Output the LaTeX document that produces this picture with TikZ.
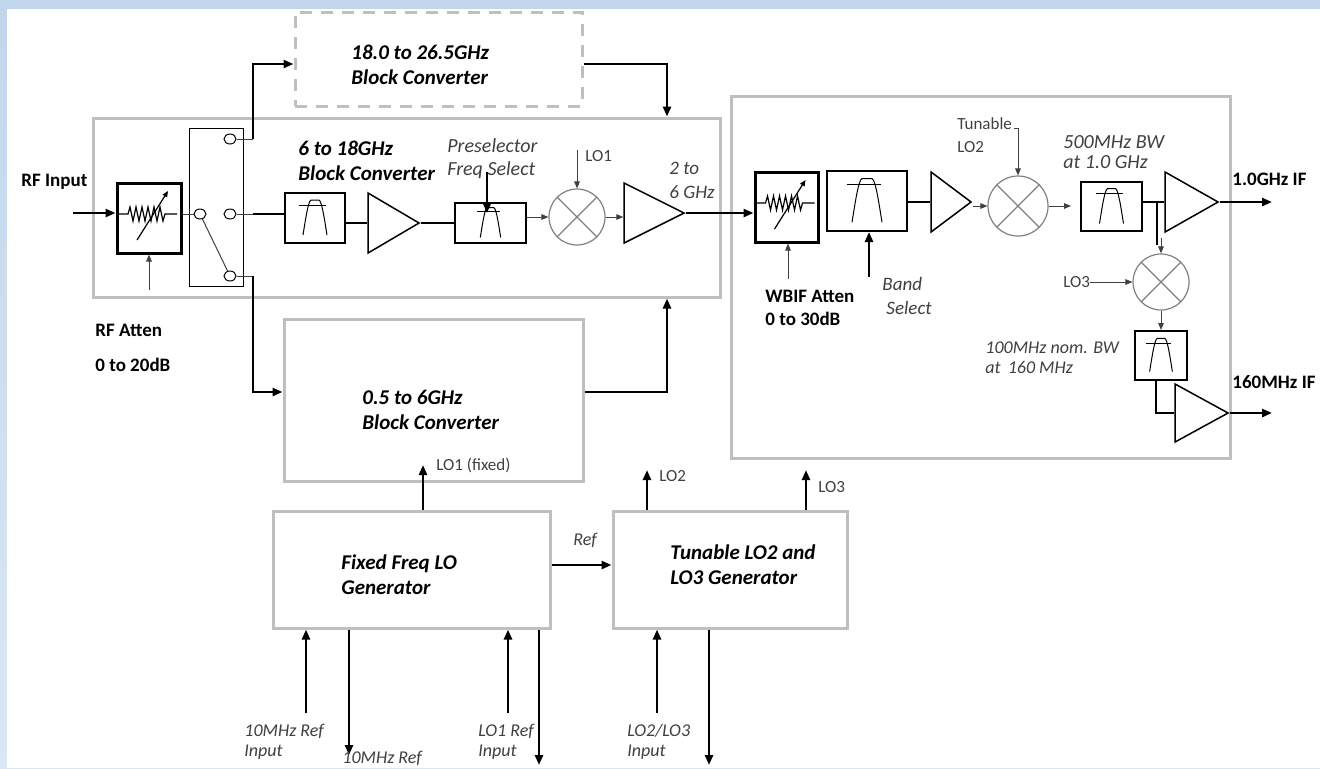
\documentclass[tikz,border=0pt]{standalone}
\usepackage{fontspec}
\setmainfont{Carlito}
\usetikzlibrary{calc, positioning, arrows.meta, shapes.geometric}
\newdimen\pxu \pxu=0.5pt
\definecolor{boxgray}{HTML}{BFBFBF}
\definecolor{mixgray}{HTML}{808080}
\definecolor{wiregray}{HTML}{404040}
\definecolor{txtgray}{HTML}{404040}
\definecolor{bgtop}{HTML}{C2D6EB}
\definecolor{bgbot}{HTML}{DAE7F4}

\begin{document}
\begin{tikzpicture}[x=0.5pt, y=-0.5pt,
    gbox/.style={draw=boxgray, line width=1.5pt, inner sep=0pt},
    fbox/.style={draw, line width=1pt, inner sep=0pt},
    abox/.style={draw, line width=1.5pt, inner sep=0pt},
    amp/.style 2 args={isosceles triangle, isosceles triangle stretches, draw, line width=0.75pt, inner sep=0pt,
      minimum height=#1*\pxu, minimum width=#2*\pxu},
    mixer/.style={circle, draw=mixgray, line width=0.6pt, minimum size=#1*\pxu, inner sep=0pt,
      path picture={\draw[mixgray, line width=0.6pt] (path picture bounding box.north east) -- (path picture bounding box.south west)
        (path picture bounding box.north west) -- (path picture bounding box.south east);}},
    swc/.style={ellipse, draw, line width=0.5pt, minimum width=12*\pxu, minimum height=10*\pxu, inner sep=0pt},
    sig/.style={line width=1.3pt},
    sarr/.style={sig, -{Triangle[length=5pt, width=4pt]}},
    wire/.style={line width=0.5pt, draw=wiregray},
    warr/.style={wire, -{Triangle[length=3.5pt, width=2.8pt]}},
    ttl/.style={font=\fontsize{10.5}{12.5}\selectfont\bfseries\itshape, align=left, anchor=west, inner sep=0pt},
    bold/.style={font=\fontsize{9.5}{11.5}\selectfont\bfseries, align=left, anchor=west, inner sep=0pt},
    note/.style={font=\fontsize{9}{11}\selectfont\itshape, text=txtgray, align=left, anchor=west, inner sep=0pt},
    tag/.style={font=\fontsize{8.5}{11.5}\selectfont, text=txtgray, align=left, anchor=west, inner sep=0pt},
    bpf/.pic={
      \draw[line width=0.5pt] (-16,-13) -- (11,-13);
      \draw[line width=0.5pt] (-12,17) .. controls (-10,5) and (-7,-17) .. (-4,-18) -- (4,-18)
        .. controls (7,-17) and (10,5) .. (12,17);
    },
    att/.pic={
      \draw[line width=0.6pt] (-31,-4) -- (-21,-4) -- (-19,-11) -- (-16,3) -- (-13,-11) -- (-10,3) -- (-7,-11)
        -- (-4,3) -- (-1,-11) -- (2,3) -- (5,-11) -- (8,3) -- (11,-11) -- (14,3) -- (16,-4) -- (28,-4);
      \draw[line width=0.6pt, -{Triangle[length=3pt, width=2.5pt]}] (-12,22) -- (19,-27);
    }]
    \useasboundingbox (0,0) rectangle (1320,768);
    % page frame
    \shade[top color=bgtop, bottom color=bgbot] (0,0) rectangle (1320,768);
    \fill[white] (7,9) rectangle (1320,768);

    % gray blocks
    \node[gbox, dash pattern=on 6pt off 4.5pt, minimum width=287*\pxu, minimum height=94*\pxu] (bc18) at (438.5,59) {};
    \node[gbox, minimum width=627*\pxu, minimum height=179*\pxu] (bc6) at (406.5,207.5) {};
    \node[gbox, minimum width=299*\pxu, minimum height=162*\pxu] (bc05) at (433.5,400) {};
    \node[gbox, minimum width=499*\pxu, minimum height=362*\pxu] (ifs) at (980.5,277) {};
    \node[gbox, minimum width=277*\pxu, minimum height=117*\pxu] (flo) at (411.5,569.5) {};
    \node[gbox, minimum width=234*\pxu, minimum height=117*\pxu] (tlo) at (730,569.5) {};

    \node[ttl] (t18) at (351,64.5) {18.0 to 26.5GHz\\Block Converter};
    \node[ttl] (t6) at (298,160.5) {6 to 18GHz\\Block Converter};
    \node[ttl] (t05) at (362,409.5) {0.5 to 6GHz\\Block Converter};
    \node[ttl] (tflo) at (341,575) {Fixed Freq LO\\Generator};
    \node[ttl] (ttlo) at (670,564.5) {Tunable LO2 and\\LO3 Generator};

    % RF front end
    \node[bold] (trf) at (21,182) {RF Input};
    \node[bold] (trfa) at (95,347.5) {RF Atten\\[6pt]0 to 20dB};
    \node[abox, minimum width=64*\pxu, minimum height=70*\pxu] (rfatt) at (149,218) {};
    \pic at (rfatt) {att};
    \coordinate (rfin) at (73,213);
    \draw[sarr] (rfin) -- (rfin -| rfatt.west);
    \coordinate (rfac) at (149,290);
    \draw[warr] (rfac) -- (rfatt.south);

    % band switch
    \node[draw, line width=0.5pt, minimum width=54*\pxu, minimum height=158*\pxu, inner sep=0pt] (swbox) at (216,207) {};
    \node[swc] (swin) at (200,214) {};
    \node[swc] (swhi) at (230,139) {};
    \node[swc] (swmid) at (230,214) {};
    \node[swc] (swlo) at (230,276) {};
    \draw[wire] (rfatt.east |- swin) -- (swin);
    \draw[wire] (swin) -- (swlo);
    \coordinate (ja) at (253,139);
    \coordinate (jb) at (253,214);
    \coordinate (jd) at (253,276);
    \draw[wire] (swhi) -- (ja);
    \draw[wire] (swmid) -- (jb);
    \draw[wire] (swlo) -- (jd);
    \draw[sarr] (ja) |- ($(bc18.west)+(0,5)$);
    \draw[sarr] (jd) |- ($(bc05.west)+(0,-8)$);

    % 6 to 18GHz chain
    \node[fbox, minimum width=60*\pxu, minimum height=50*\pxu] (f1) at (315,218) {};
    \pic at (f1) {bpf};
    \draw[sig] (jb) -- (jb -| f1.west);
    \node[amp={51}{60}, anchor=apex] (amp1) at (421,223) {};
    \draw[sig] (f1.east |- amp1.west) -- (amp1.west);
    \node[fbox, minimum width=71*\pxu, minimum height=40*\pxu] (f2) at (490.5,223) {};
    \pic[scale=0.85] at (f2) {bpf};
    \draw[sig] (amp1.apex) -- (amp1.apex -| f2.west);
    \node[note, font=\fontsize{10}{11.5}\selectfont\itshape] (tpre) at (447,158.5) {Preselector\\Freq Select};
    \coordinate (psel) at (487,172);
    \coordinate (pselt) at (487,213);
    \draw[sarr] (psel) -- (pselt);
    \node[mixer=56] (mx1) at (577,217) {};
    \draw[warr] (f2.east |- mx1.west) -- (mx1.west);
    \coordinate (lo1) at (577,150);
    \draw[warr] (lo1) -- (mx1.north);
    \node[tag] (tlo1) at (585,156) {LO1};
    \node[amp={60}{60}, anchor=apex] (amp2) at (686,213) {};
    \draw[warr] (mx1.east) -- (mx1.east -| amp2.west);
    \node[note, font=\fontsize{9.5}{12}\selectfont\itshape] (t26) at (669,180) {2 to\\6 GHz};

    % converter outputs
    \coordinate (tap) at (667,0);
    \draw[sarr] ($(bc18.east)+(0,5)$) -| (bc6.north -| tap);
    \draw[sarr] ($(bc05.east)+(0,-8)$) -| (bc6.south -| tap);

    % IF section
    \node[abox, minimum width=63*\pxu, minimum height=70*\pxu] (wbatt) at (786.5,207) {};
    \pic at (wbatt) {att};
    \draw[sarr] (amp2.apex) -- (amp2.apex -| wbatt.west);
    \coordinate (wbc) at (788,279);
    \draw[warr] (wbc) -- (wbc |- wbatt.south);
    \node[bold] (twb) at (765,307.5) {WBIF Atten\\0 to 30dB};
    \node[fbox, minimum width=80*\pxu, minimum height=60*\pxu] (band) at (867,201) {};
    \pic[scale=1.25] at (band) {bpf};
    \coordinate (bsel) at (869,277);
    \draw[sarr] (bsel) -- (bsel |- band.south);
    \node[note, font=\fontsize{9.5}{12}\selectfont\itshape] (tband) at (882,296) {Band\\\hspace{2pt}Select};
    \node[amp={40}{60}, anchor=apex] (amp3) at (973,202) {};
    \draw[sig] (band.east |- amp3.west) -- (amp3.west);
    \node[mixer=60] (mx2) at (1018,206) {};
    \draw[warr] (amp3.apex |- mx2.west) -- (mx2.west);
    \node[tag] (ttun) at (957,135.5) {Tunable\\LO2};
    \coordinate (lo2) at (1014,128);
    \draw[warr] (lo2) -| (mx2.north);
    \node[fbox, minimum width=61*\pxu, minimum height=49*\pxu] (f3) at (1111.5,206.5) {};
    \pic at (f3) {bpf};
    \draw[warr, shorten >=4.5pt] (mx2.east) -- (mx2.east -| f3.west);
    \node[note, font=\fontsize{10}{10}\selectfont\itshape] (t500) at (1063,152) {500MHz BW\\at 1.0 GHz};
    \node[amp={53}{60}, anchor=apex] (amp4) at (1220,202) {};
    \draw[sig] (f3.east |- amp4.west) -- (amp4.west);
    \coordinate (if1) at (1272,202);
    \draw[sarr] (amp4.apex) -- (if1);
    \node[bold] (tif1) at (1232,179) {1.0GHz IF};

    % 160MHz branch
    \coordinate (tee) at (1157,202);
    \coordinate (teeb) at (1157,245);
    \draw[sig] (tee) -- (teeb);
    \node[mixer=56] (mx3) at (1161,282) {};
    \coordinate (mx3in) at (1161,238);
    \draw[warr] (mx3in) -- (mx3.north);
    \node[tag] (tlo3) at (1063,282) {LO3};
    \draw[warr] (tlo3.east) -- (mx3.west);
    \node[fbox, minimum width=52*\pxu, minimum height=49*\pxu] (f4) at (1161,355.5) {};
    \pic[scale=0.95] at (f4) {bpf};
    \draw[warr] (mx3.south) -- (f4.north);
    \node[note, font=\fontsize{9}{10}\selectfont\itshape] (t100) at (985,358) {100MHz nom. BW\\at \,160 MHz};
    \node[amp={53}{58}, anchor=apex] (amp5) at (1230,413) {};
    \draw[sig] ($(f4.south)+(-5,0)$) |- (amp5.west);
    \coordinate (if2) at (1272,413);
    \draw[sarr] (amp5.apex) -- (if2);
    \node[bold] (tif2) at (1232,382) {160MHz IF};

    % LO generators
    \coordinate (lo1f) at (423,465);
    \draw[sarr] (flo.north -| lo1f) -- (lo1f);
    \node[tag] (tlo1f) at (436,465) {LO1 (fixed)};
    \draw[sarr] ($(flo.east)+(0,-4.5)$) -- ($(flo.east -| tlo.west)+(0,-4.5)$);
    \node[note] (tref) at (573,540) {Ref};
    \coordinate (lo2o) at (647,470);
    \draw[sarr] (tlo.north -| lo2o) -- (lo2o);
    \node[tag] (tlo2) at (659,476) {LO2};
    \coordinate (lo3o) at (806,470);
    \draw[sarr] (tlo.north -| lo3o) -- (lo3o);
    \node[tag] (tlo3o) at (818,487) {LO3};

    \coordinate (r10i) at (306,713);
    \draw[sarr] (r10i) -- (r10i |- flo.south);
    \coordinate (r10o) at (349,755);
    \draw[sarr] (flo.south -| r10o) -- (r10o);
    \coordinate (lo1r) at (508,713);
    \draw[sarr] (lo1r) -- (lo1r |- flo.south);
    \coordinate (flox) at (539,765);
    \draw[sarr] (flo.south -| flox) -- (flox);
    \coordinate (lo23i) at (657,713);
    \draw[sarr] (lo23i) -- (lo23i |- tlo.south);
    \coordinate (tlox) at (709,765);
    \draw[sarr] (tlo.south -| tlox) -- (tlox);
    \node[note, font=\fontsize{9}{10}\selectfont\itshape] (t10i) at (244,742) {10MHz Ref\\Input};
    \node[note] (t10o) at (342,758) {10MHz Ref};
    \node[note, font=\fontsize{9}{10}\selectfont\itshape] (tlo1r) at (478,742) {LO1 Ref\\Input};
    \node[note, font=\fontsize{9}{10}\selectfont\itshape] (tlo23) at (627,742) {LO2/LO3\\Input};
\end{tikzpicture}
\end{document}
